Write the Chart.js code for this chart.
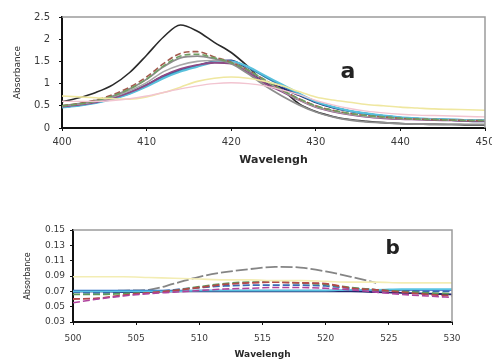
<!DOCTYPE html>
<html>
<head>
<meta charset="utf-8">
<script src="https://cdn.jsdelivr.net/npm/chart.js@4.4.1/dist/chart.umd.min.js"></script>
<style>
  body { margin: 0; background: #fff; width: 492px; height: 360px; overflow: hidden; position: relative; }
  canvas { position: absolute; left: 0; }
  #chartA { top: 0; }
  #chartB { top: 195px; }
</style>
</head>
<body>
<canvas id="chartA" width="492" height="170"></canvas>
<canvas id="chartB" width="492" height="165"></canvas>
<script>
// ---- Graphe a : spectres 400-450 nm ----
const wavelengthA = [400,402,404,406,408,410,412,414,416,418,420,422,424,426,428,430,432,434,436,438,440,442,444,446,448,450];
const xTicksA = [400,410,420,430,440,450];
const yTicksA = [0,0.5,1,1.5,2,2.5];

const pinkA    = [0.60,0.60,0.60,0.62,0.66,0.72,0.80,0.88,0.95,1.00,1.02,1.00,0.95,0.86,0.75,0.62,0.52,0.44,0.38,0.34,0.31,0.29,0.28,0.27,0.26,0.25];
const yellowA  = [0.72,0.70,0.68,0.66,0.65,0.70,0.80,0.92,1.05,1.12,1.15,1.12,1.05,0.95,0.82,0.70,0.63,0.58,0.53,0.50,0.47,0.45,0.43,0.42,0.41,0.40];
const greenA   = [0.50,0.54,0.61,0.72,0.88,1.10,1.40,1.62,1.66,1.58,1.47,1.30,1.08,0.86,0.66,0.50,0.40,0.33,0.28,0.25,0.22,0.20,0.19,0.18,0.17,0.17];
const brownA   = [0.50,0.55,0.63,0.75,0.92,1.15,1.45,1.68,1.72,1.60,1.48,1.30,1.08,0.86,0.66,0.50,0.40,0.33,0.28,0.25,0.22,0.20,0.19,0.18,0.17,0.17];
const grey1A   = [0.50,0.55,0.62,0.72,0.88,1.10,1.38,1.58,1.62,1.56,1.45,1.22,0.95,0.72,0.52,0.36,0.25,0.18,0.14,0.12,0.10,0.09,0.09,0.08,0.08,0.08];
const grey2A   = [0.50,0.54,0.60,0.70,0.84,1.02,1.27,1.42,1.50,1.52,1.48,1.30,1.06,0.84,0.64,0.48,0.38,0.31,0.26,0.23,0.21,0.20,0.19,0.18,0.17,0.17];
const magentaA = [0.48,0.52,0.58,0.67,0.80,0.97,1.18,1.33,1.42,1.47,1.45,1.25,1.00,0.82,0.63,0.47,0.37,0.30,0.25,0.22,0.20,0.19,0.18,0.17,0.16,0.16];
const cyanA    = [0.46,0.50,0.56,0.65,0.77,0.93,1.12,1.27,1.38,1.48,1.50,1.38,1.18,0.98,0.78,0.60,0.48,0.39,0.33,0.28,0.24,0.22,0.20,0.19,0.18,0.18];
const tealA    = [0.47,0.51,0.57,0.66,0.78,0.95,1.14,1.29,1.40,1.49,1.50,1.36,1.15,0.95,0.76,0.59,0.47,0.38,0.32,0.27,0.23,0.21,0.20,0.19,0.18,0.18];
const navyA    = [0.47,0.52,0.58,0.67,0.80,0.97,1.17,1.30,1.40,1.50,1.52,1.30,1.05,0.90,0.74,0.58,0.46,0.38,0.32,0.27,0.23,0.21,0.19,0.18,0.16,0.15];
const blackA   = [0.59,0.68,0.80,0.97,1.25,1.64,2.05,2.32,2.18,1.93,1.70,1.38,1.02,0.86,0.55,0.37,0.26,0.19,0.15,0.12,0.10,0.09,0.08,0.08,0.07,0.07];

// ---- Graphe b : spectres 500-530 nm ----
const wavelengthB = [500,502,504,506,508,510,512,514,516,518,520,522,524,526,528,530];
const xTicksB = [500,505,510,515,520,525,530];
const yTicksB = [0.03,0.05,0.07,0.09,0.11,0.13,0.15];

const yellowB  = [0.089,0.089,0.089,0.088,0.087,0.086,0.085,0.085,0.084,0.084,0.083,0.082,0.082,0.081,0.081,0.081];
const magentaB = [0.055,0.060,0.064,0.067,0.069,0.071,0.073,0.074,0.075,0.075,0.074,0.072,0.069,0.066,0.064,0.062];
const redB     = [0.060,0.061,0.065,0.068,0.071,0.075,0.079,0.081,0.082,0.081,0.080,0.074,0.072,0.069,0.066,0.064];
const greenB   = [0.066,0.066,0.067,0.068,0.071,0.076,0.080,0.082,0.082,0.081,0.079,0.075,0.072,0.070,0.068,0.067];
const blueDashB= [0.069,0.068,0.068,0.069,0.072,0.075,0.077,0.078,0.078,0.078,0.077,0.074,0.072,0.071,0.070,0.070];
const cyanB    = [0.070,0.070,0.070,0.070,0.070,0.071,0.071,0.071,0.071,0.071,0.071,0.072,0.072,0.073,0.073,0.073];
const navyB    = [0.070,0.070,0.069,0.069,0.070,0.070,0.070,0.070,0.070,0.070,0.070,0.070,0.069,0.068,0.067,0.066];
const blueB    = [0.071,0.071,0.071,0.071,0.071,0.071,0.071,0.071,0.071,0.071,0.071,0.071,0.071,0.072,0.072,0.072];
const greyB    = [0.070,0.070,0.071,0.072,0.080,0.089,0.095,0.099,0.102,0.101,0.096,0.089,0.081,null,null,null];

// Plugin qui dessine le cadre gris (haut + droite) et la lettre du graphe
const cadre = {
    id: 'cadre',
    afterDatasetsDraw(chart, args, opts) {
        const { ctx, chartArea, scales } = chart;
        ctx.save();
        ctx.strokeStyle = '#9c9c9c';
        ctx.lineWidth = 1.5;
        ctx.beginPath();
        ctx.moveTo(chartArea.left, chartArea.top);
        ctx.lineTo(chartArea.right, chartArea.top);
        ctx.lineTo(chartArea.right, chartArea.bottom);
        ctx.stroke();
        // lettre a / b placée avec les échelles
        ctx.fillStyle = '#222';
        ctx.font = 'bold ' + opts.size + 'px "DejaVu Sans"';
        ctx.textAlign = 'center';
        ctx.textBaseline = 'middle';
        ctx.fillText(opts.lettre, scales.x.getPixelForValue(opts.lx), scales.y.getPixelForValue(opts.ly));
        ctx.restore();
    }
};

function plotSpectre(canvasId, wavelengths, series, cfg) {
    const ctx = document.getElementById(canvasId).getContext('2d');
    const datasets = series.map(s => ({
        data: s.values.map((v, i) => ({ x: wavelengths[i], y: v })),
        borderColor: s.color,
        borderWidth: s.width || 1.6,
        borderDash: s.dash || [],
        pointRadius: 0,
        fill: false,
        cubicInterpolationMode: 'monotone',
        spanGaps: false
    }));
    new Chart(ctx, {
        type: 'line',
        data: { datasets: datasets },
        options: {
            responsive: false,
            animation: false,
            layout: { padding: cfg.padding },
            plugins: {
                legend: { display: false },
                tooltip: { enabled: false },
                cadre: cfg.lettre
            },
            scales: {
                x: {
                    type: 'linear',
                    min: cfg.xTicks[0],
                    max: cfg.xTicks[cfg.xTicks.length - 1],
                    afterBuildTicks: sc => { sc.ticks = cfg.xTicks.map(v => ({ value: v })); },
                    afterFit: sc => { sc.height = cfg.xHeight; sc.paddingLeft = 0; sc.paddingRight = 0; },
                    grid: { drawOnChartArea: false, tickLength: 3, tickColor: '#111' },
                    border: { color: '#111', width: 2 },
                    ticks: { autoSkip: false, maxRotation: 0, padding: cfg.xPad, color: '#3a3a3a',
                             font: { family: 'DejaVu Sans', size: cfg.tickSize } },
                    title: { display: true, text: 'Wavelengh', color: '#2a2a2a',
                             font: { family: 'DejaVu Sans', size: cfg.xTitleSize, weight: 'bold' },
                             padding: { top: 0, bottom: cfg.xTitlePad } }
                },
                y: {
                    min: cfg.yTicks[0],
                    max: cfg.yTicks[cfg.yTicks.length - 1],
                    afterBuildTicks: sc => { sc.ticks = cfg.yTicks.map(v => ({ value: v })); },
                    afterFit: sc => { sc.width = cfg.yWidth; sc.paddingTop = 0; sc.paddingBottom = 0; },
                    grid: { drawOnChartArea: false, tickLength: 3, tickColor: '#111' },
                    border: { color: '#111', width: 2 },
                    ticks: { autoSkip: false, padding: cfg.yPad, color: '#3a3a3a',
                             font: { family: 'DejaVu Sans', size: cfg.tickSize },
                             callback: cfg.yFormat },
                    title: { display: true, text: 'Absorbance', color: '#2a2a2a',
                             font: { family: 'DejaVu Sans', size: cfg.yTitleSize },
                             padding: { top: cfg.yTitlePad, bottom: 0 } }
                }
            }
        },
        plugins: [cadre]
    });
}

plotSpectre('chartA', wavelengthA, [
    { values: pinkA, color: '#f2c4d0', width: 1.4 },
    { values: yellowA, color: '#efe7a0', width: 1.6 },
    { values: greenA, color: '#6f9f62', dash: [6, 3] },
    { values: brownA, color: '#a35a4e', dash: [6, 3] },
    { values: grey1A, color: '#8d8d8d', width: 1.8 },
    { values: grey2A, color: '#a8a8a8', width: 1.6 },
    { values: magentaA, color: '#8e4a86', width: 1.8 },
    { values: cyanA, color: '#58c0dc', width: 2 },
    { values: tealA, color: '#2f7fae', width: 1.8 },
    { values: navyA, color: '#262672', width: 2 },
    { values: blackA, color: '#2a2a2a', width: 1.6 }
], {
    xTicks: xTicksA, yTicks: yTicksA,
    padding: { top: 17, right: 7, left: 0, bottom: 0 },
    xHeight: 42, yWidth: 62,
    xPad: 5, yPad: 9, tickSize: 10,
    xTitleSize: 11, xTitlePad: 3,
    yTitleSize: 9, yTitlePad: 12,
    yFormat: v => String(+v.toFixed(1)),
    lettre: { lettre: 'a', lx: 433.8, ly: 1.26, size: 22 }
});

plotSpectre('chartB', wavelengthB, [
    { values: yellowB, color: '#f3edb4', width: 1.6 },
    { values: magentaB, color: '#b0449e', dash: [7, 3] },
    { values: redB, color: '#b4484a', dash: [7, 3], width: 1.8 },
    { values: greenB, color: '#5c9a5c', dash: [7, 3], width: 1.8 },
    { values: cyanB, color: '#58c4e2', width: 1.8 },
    { values: navyB, color: '#24246e', width: 1.8 },
    { values: blueDashB, color: '#3a6ab4', dash: [7, 3], width: 1.8 },
    { values: blueB, color: '#2064c4', width: 1.8 },
    { values: greyB, color: '#858585', dash: [12, 3], width: 1.8 }
], {
    xTicks: xTicksB, yTicks: yTicksB,
    padding: { top: 35, right: 40, left: 0, bottom: 0 },
    xHeight: 38, yWidth: 73,
    xPad: 8, yPad: 5, tickSize: 9,
    xTitleSize: 9, xTitlePad: 0,
    yTitleSize: 8, yTitlePad: 23,
    yFormat: v => v.toFixed(2),
    lettre: { lettre: 'b', lx: 525.3, ly: 0.1253, size: 20 }
});
</script>
</body>
</html>
